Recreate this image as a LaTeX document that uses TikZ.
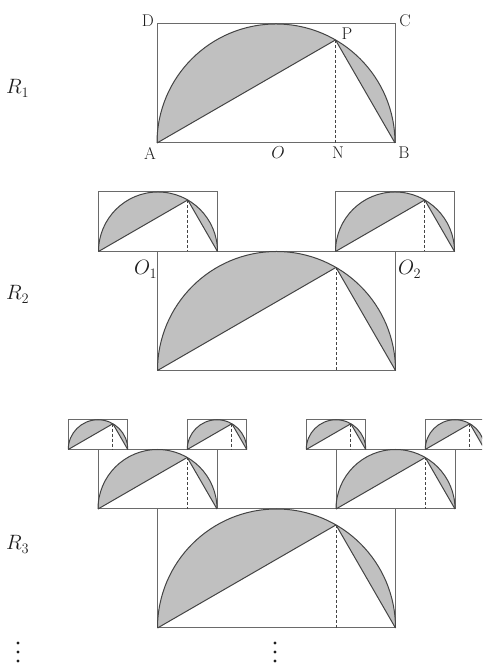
\documentclass[tikz,border=0pt]{standalone}
\definecolor{shadec}{HTML}{C0C0C0}
\definecolor{arcc}{HTML}{444444}
\definecolor{boxc}{HTML}{6A6A6A}
\definecolor{textc}{HTML}{1E1E1E}
\tikzset{
  boxline/.style={draw=boxc,line width=1pt},
  arcline/.style={draw=arcc,line width=1pt},
  dashline/.style={draw=arcc,line width=0.9pt,dash pattern=on 3pt off 2pt},
  lbl/.style={inner sep=0pt,text=textc,font=\fontsize{17}{20}\selectfont},
  mlbl/.style={inner sep=0pt,text=textc,font=\fontsize{20}{24}\selectfont},
  dotmark/.style={fill=textc,draw=none},
}
% #1 = centre x (px), #2 = base y (px, downward), #3 = radius (px)
\newcommand\semifig[3]{%
  \fill[shadec] ({#1-#3},{666-#2}) arc[start angle=180,end angle=60,radius=#3] -- cycle;
  \fill[shadec] ({#1+0.5*#3},{666-#2+0.8660254*#3}) arc[start angle=60,end angle=0,radius=#3] -- cycle;
  \draw[boxline] ({#1-#3},{666-#2}) rectangle ({#1+#3},{666-#2+#3});
  \draw[dashline] ({#1+0.5*#3},{666-#2+0.8660254*#3}) -- ({#1+0.5*#3},{666-#2});
  \draw[arcline] ({#1-#3},{666-#2}) arc[start angle=180,end angle=0,radius=#3];
  \draw[arcline,line join=round] ({#1-#3},{666-#2}) -- ({#1+0.5*#3},{666-#2+0.8660254*#3}) -- ({#1+#3},{666-#2});
}
\newcommand\vdotsmark[1]{%
  \foreach \yy in {643,652,661} {\fill[dotmark] (#1,{666-\yy}) circle[radius=1.6];}
}
\begin{document}
\begin{tikzpicture}[x=1pt,y=1pt]
\useasboundingbox (0,0) rectangle (482,666);
\clip (0,0) rectangle (482,666);
% R1
\semifig{276}{143}{119}
\node[lbl] (D) at (148,{666-21}) {D};
\node[lbl] (C) at (405,{666-21}) {C};
\node[lbl] (P) at (347,{666-34}) {P};
\node[lbl] (A) at (150,{666-153}) {A};
\node[lbl,font=\fontsize{18}{22}\selectfont] (O) at (278,{666-153}) {$O$};
\node[lbl] (N) at (338,{666-153}) {N};
\node[lbl] (B) at (404,{666-153}) {B};
\node[mlbl,anchor=base west] (R1) at (6,{666-94}) {$R_1$};
% R2
\semifig{276.5}{370.5}{119}
\semifig{158}{251.5}{59.5}
\semifig{395}{251.5}{59.5}
\node[mlbl,anchor=base west] (O1) at (134,{666-275}) {$O_1$};
\node[mlbl,anchor=base west] (O2) at (398,{666-275}) {$O_2$};
\node[mlbl,anchor=base west] (R2) at (6,{666-300}) {$R_2$};
% R3
\semifig{276.5}{628}{119}
\semifig{157.5}{509}{59.5}
\semifig{395.5}{509}{59.5}
\semifig{98}{449.5}{29.75}
\semifig{217}{449.5}{29.75}
\semifig{336}{449.5}{29.75}
\semifig{455}{449.5}{29.75}
\node[mlbl,anchor=base west] (R3) at (6,{666-550}) {$R_3$};
% dots
\vdotsmark{18}
\vdotsmark{275}
\end{tikzpicture}
\end{document}
